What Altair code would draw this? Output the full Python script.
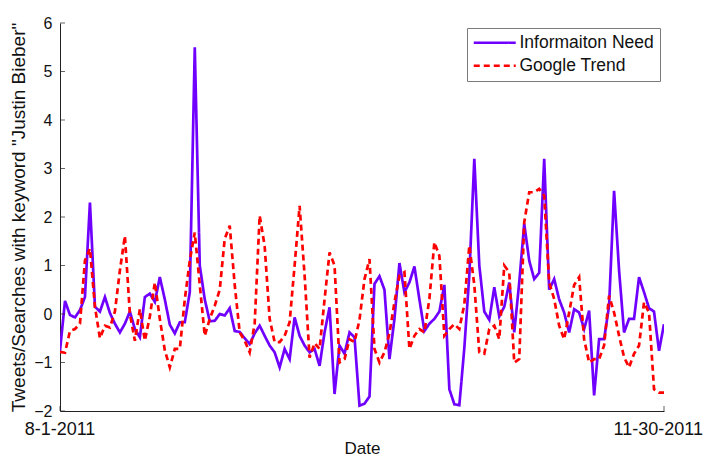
import altair as alt
import pandas as pd

# ---- data (daily, 8-1-2011 .. 11-30-2011) ----
info_need = [
    -0.76, 0.27, -0.02, -0.07, 0.08, 0.35, 2.30, 0.15, 0.05, 0.35,
    0.02, -0.20, -0.38, -0.20, 0.05, -0.31, -0.48, 0.35, 0.42, 0.25,
    0.76, 0.30, -0.22, -0.40, -0.17, -0.17, 0.45, 5.50, 1.00, 0.30,
    -0.15, -0.14, 0.00, -0.03, 0.12, -0.35, -0.37, -0.50, -0.62, -0.40,
    -0.24, -0.45, -0.65, -0.79, -1.10, -0.72, -0.93, -0.07, -0.45, -0.65,
    -0.79, -0.72, -1.07, -0.38, 0.14, -1.65, -0.65, -0.82, -0.38, -0.48,
    -1.89, -1.85, -1.70, 0.62, 0.78, 0.50, -0.93, -0.10, 1.05, 0.45,
    0.65, 0.98, 0.30, -0.35, -0.20, -0.10, 0.05, 0.60, -1.55, -1.86,
    -1.88, -0.70, 0.80, 3.20, 1.00, 0.05, -0.12, 0.55, -0.05, 0.15,
    0.65, -0.38, 0.65, 1.86, 1.10, 0.72, 0.85, 3.20, 0.50, 0.72,
    0.30, 0.03, -0.38, 0.10, 0.03, -0.31, 0.07, -1.68, -0.52, -0.52,
    0.17, 2.54, 0.90, -0.38, -0.10, -0.10, 0.76, 0.45, 0.12, 0.05,
    -0.76, -0.21,
]
google_trend = [
    -0.78, -0.80, -0.35, -0.31, -0.20, 1.10, 1.35, 0.15, -0.50, -0.24,
    -0.28, 0.05, 0.90, 1.61, 0.00, -0.55, 0.10, -0.55, -0.05, 0.65,
    -0.10, -0.75, -1.10, -0.72, -0.72, 0.30, 1.10, 1.68, 0.60, -0.45,
    -0.10, 0.17, 0.50, 1.55, 1.82, 0.60, -0.38, -0.55, -0.79, -0.20,
    2.03, 1.40, -0.10, -0.58, -0.58, -0.45, -0.17, 1.00, 2.23, 0.80,
    -0.90, -0.60, -0.72, 0.30, 1.27, 1.00, -1.00, -0.93, -0.52, -0.58,
    -0.12, 0.72, 1.13, -0.72, -1.00, -0.79, -0.40, 0.24, 0.79, 0.86,
    -0.72, -0.45, -0.31, -0.38, 0.31, 1.48, 1.20, -0.45, -0.31, -0.21,
    -0.31, 0.20, 1.41, 0.60, -0.79, -0.82, -0.31, -0.24, -0.52, 1.00,
    0.86, -1.00, -0.93, 1.89, 2.51, 2.51, 2.58, 2.44, 0.65, 0.31,
    -0.24, -0.52, 0.03, 0.60, 0.76, -0.52, -1.00, -0.93, -0.93, -0.65,
    0.38, 0.03, -0.45, -0.89, -1.10, -0.82, -0.65, 0.24, 0.03, -1.55,
    -1.62, -1.62,
]
series_names = ["Informaiton Need", "Google Trend"]
series_colors = ["#6f00ff", "#ff0000"]
y_tick_values = [-2, -1, 0, 1, 2, 3, 4, 5, 6]
x_tick_labels = ["8-1-2011", "11-30-2011"]
x_tick_dates = ["2011-08-01", "2011-11-30"]

dates = pd.date_range("2011-08-01", "2011-11-30", freq="D").strftime("%Y-%m-%d")
df = pd.concat([
    pd.DataFrame({"date": dates, "value": info_need, "series": series_names[0]}),
    pd.DataFrame({"date": dates, "value": google_trend, "series": series_names[1]}),
])
xlab_df = pd.DataFrame({"date": x_tick_dates, "label": x_tick_labels})

W, H = 604, 388
FONT = "Liberation Sans"
d0 = alt.DateTime(year=2011, month=8, date=1, utc=True)
d1 = alt.DateTime(year=2011, month=11, date=30, utc=True)
x_scale = alt.Scale(type="utc", domain=[d0, d1])
y_scale = alt.Scale(domain=[-2, 6], nice=False, zero=False)
y_title = 'Tweets/Searches with keyword "Justin Bieber"'
y_axis = alt.Axis(values=y_tick_values, ticks=False, labelPadding=8, titlePadding=5,
                  labelFontSize=16, titleFontSize=19, grid=False)
x_axis = alt.Axis(values=[d0, d1], labels=False, ticks=False,
                  titlePadding=29, titleFontSize=17, grid=False)

legend_common = dict(
    title=None, orient="none", legendX=407, legendY=5,
    symbolType="M-3.5,0H3.5", symbolSize=144, symbolStrokeWidth=2.6,
    symbolOffset=13, labelOffset=16,
    strokeColor="#7a7a7a", fillColor="white", padding=6,
    labelFontSize=17.5, labelFont=FONT, labelColor="#111",
    rowPadding=4,
)

lines = alt.Chart(df).mark_line(strokeWidth=2.7, clip=True).encode(
    x=alt.X("date:T", scale=x_scale, title="Date", axis=x_axis),
    y=alt.Y("value:Q", scale=y_scale, title=y_title, axis=y_axis),
    color=alt.Color("series:N", scale=alt.Scale(domain=series_names, range=series_colors),
                    legend=alt.Legend(**legend_common)),
    strokeDash=alt.StrokeDash("series:N", scale=alt.Scale(domain=series_names, range=[[1, 0], [6, 4]]),
                              legend=alt.Legend(**legend_common)),
)

yticks = alt.Chart(pd.DataFrame({"v": y_tick_values})).mark_tick(
    orient="horizontal", size=5, thickness=1, color="#222"
).encode(y=alt.Y("v:Q", scale=y_scale, title=y_title, axis=y_axis), x=alt.value(2.5))

xticks = alt.Chart(pd.DataFrame({"date": x_tick_dates})).mark_tick(
    orient="vertical", size=5, thickness=1, color="#222"
).encode(x=alt.X("date:T", scale=x_scale, title="Date", axis=x_axis), y=alt.value(H - 2.5))

# x tick labels: first centred on its date, last kept inside the page
xlab_first = alt.Chart(xlab_df.iloc[[0]]).mark_text(
    align="center", baseline="top", font=FONT, fontSize=18, color="#111"
).encode(x=alt.X("date:T", scale=x_scale, title="Date", axis=x_axis), y=alt.value(H + 10), text="label:N")
xlab_last = alt.Chart(xlab_df.iloc[[1]]).mark_text(
    align="right", baseline="top", font=FONT, fontSize=18, color="#111", dx=39
).encode(x=alt.X("date:T", scale=x_scale, title="Date", axis=x_axis), y=alt.value(H + 10), text="label:N")

chart = alt.layer(lines, yticks, xticks, xlab_first, xlab_last).properties(
    width=W, height=H,
    autosize=alt.AutoSizeParams(type="none"),
    padding={"left": 52, "top": 15, "right": 40, "bottom": 47},
).configure_view(stroke=None).configure_axis(
    domainColor="#222", domainWidth=1,
    labelFont=FONT, labelColor="#111",
    titleFont=FONT, titleFontWeight="normal", titleColor="#111",
)

chart.save("out.html", embed_options={"renderer": "svg", "actions": False})
